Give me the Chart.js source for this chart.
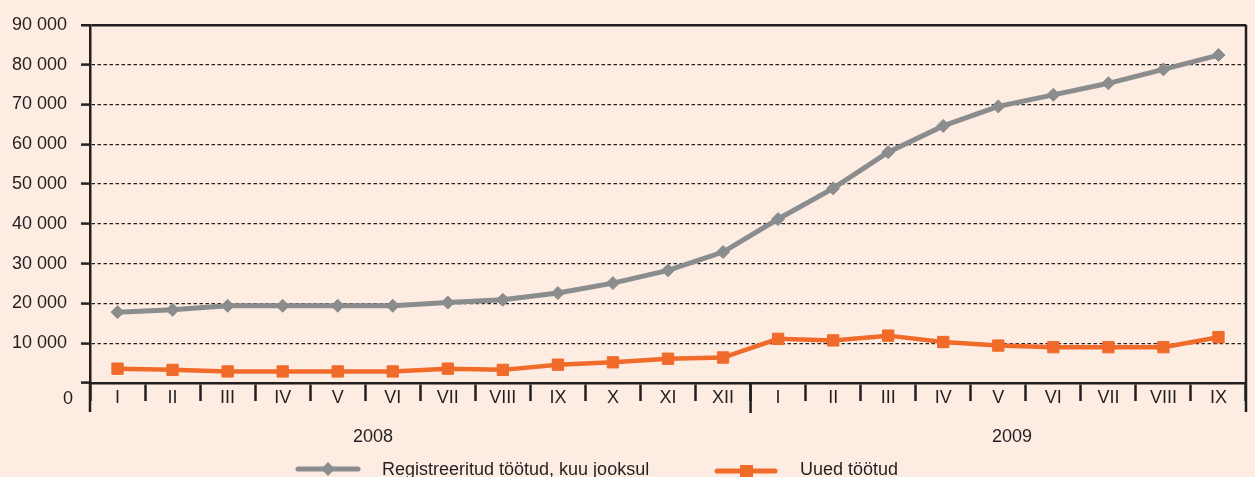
<!DOCTYPE html>
<html>
<head>
<meta charset="utf-8">
<script src="https://cdn.jsdelivr.net/npm/chart.js@4"></script>
<style>
  html, body { margin: 0; padding: 0; background: #FDECE1; }
  #wrap { width: 1255px; height: 477px; }
</style>
</head>
<body>
<div id="wrap"><canvas id="myChart" width="1255" height="477"></canvas></div>
<script>
// months of 2008 (I-XII) and 2009 (I-IX)
const months = ['I', 'II', 'III', 'IV', 'V', 'VI', 'VII', 'VIII', 'IX', 'X', 'XI', 'XII',
                'I', 'II', 'III', 'IV', 'V', 'VI', 'VII', 'VIII', 'IX'];
const years = ['2008', '2009'];
const registered = [17800, 18400, 19400, 19400, 19400, 19400, 20200, 20900, 22600, 25100, 28300, 32900,
                    41200, 48900, 58000, 64600, 69500, 72400, 75300, 78800, 82400];
const newUnemployed = [3600, 3300, 2900, 2900, 2900, 2900, 3600, 3300, 4600, 5200, 6100, 6400,
                       11100, 10700, 11900, 10300, 9400, 9000, 9000, 9000, 11500];
const seriesNames = ['Registreeritud töötud, kuu jooksul', 'Uued töötud'];

const ink = '#231F20';
const grey = '#8A8C8E';
const orange = '#F06A2A';
const fontFamily = '"Liberation Sans", Arial, sans-serif';

document.addEventListener("DOMContentLoaded", function() {
  const ctx = document.getElementById('myChart').getContext('2d');

  // frame pieces, year labels, the lowered "0" and the legend
  const extras = {
    id: 'extras',
    afterDraw(chart) {
      const c = chart.ctx;
      const area = chart.chartArea;
      const x = chart.scales.x;
      const y = chart.scales.y;
      const yearSplit = (x.getPixelForValue(11) + x.getPixelForValue(12)) / 2;
      c.save();
      c.strokeStyle = ink;
      c.lineWidth = 2.5;
      c.beginPath();
      c.moveTo(area.right, area.top);
      c.lineTo(area.right, area.bottom + 29);
      c.moveTo(area.left, area.bottom);
      c.lineTo(area.left, area.bottom + 29);
      c.moveTo(yearSplit, area.bottom);
      c.lineTo(yearSplit, area.bottom + 30);
      c.stroke();

      c.fillStyle = ink;
      c.font = '18px ' + fontFamily;
      c.textAlign = 'right';
      c.textBaseline = 'middle';
      c.fillText('0', 73, y.getPixelForValue(0) + 16);

      c.textAlign = 'center';
      c.fillText(years[0], x.getPixelForValue(4.64), 437);
      c.fillText(years[1], x.getPixelForValue(16.25), 437);

      // legend
      c.lineCap = 'round';
      c.lineWidth = 5;
      c.strokeStyle = grey;
      c.beginPath(); c.moveTo(298, 469); c.lineTo(358, 469); c.stroke();
      c.fillStyle = grey;
      c.beginPath();
      c.moveTo(328 - 7, 469); c.lineTo(328, 462); c.lineTo(328 + 7, 469); c.lineTo(328, 476);
      c.closePath(); c.fill();
      c.strokeStyle = orange;
      c.beginPath(); c.moveTo(717, 471); c.lineTo(775, 471); c.stroke();
      c.fillStyle = orange;
      c.fillRect(740, 465, 13, 13);

      c.fillStyle = ink;
      c.textAlign = 'left';
      c.textBaseline = 'alphabetic';
      c.fillText(chart.data.datasets[0].label, 382, 475);
      c.fillText(chart.data.datasets[1].label, 800, 475);
      c.restore();
    }
  };

  Chart.defaults.font.family = fontFamily;
  Chart.defaults.font.size = 18;
  Chart.defaults.color = ink;

  const myChart = new Chart(ctx, {
    type: 'line',
    data: {
      labels: months,
      datasets: [{
        label: seriesNames[0],
        data: registered,
        borderColor: grey,
        backgroundColor: grey,
        borderWidth: 5,
        pointStyle: 'rectRot',
        pointRadius: 6.5,
        pointBorderWidth: 1,
        tension: 0
      }, {
        label: seriesNames[1],
        data: newUnemployed,
        borderColor: orange,
        backgroundColor: orange,
        borderWidth: 4.5,
        pointStyle: 'rect',
        pointRadius: 8,
        pointBorderWidth: 1,
        tension: 0
      }]
    },
    options: {
      responsive: false,
      animation: false,
      layout: { padding: { top: 23, right: 2, left: 0, bottom: 0 } },
      plugins: {
        legend: { display: false },
        tooltip: { enabled: false }
      },
      scales: {
        x: {
          offset: true,
          grid: {
            offset: true,
            drawOnChartArea: false,
            drawTicks: true,
            tickLength: 18,
            tickColor: ink,
            tickWidth: 2.5
          },
          border: { color: ink, width: 2.5 },
          ticks: { padding: -14, maxRotation: 0, autoSkip: false, color: ink },
          afterFit: function(scale) { scale.height = 94; }
        },
        y: {
          min: 0,
          max: 90000,
          grid: {
            color: function(c) { return c.tick && c.tick.value === 0 ? 'rgba(0,0,0,0)' : ink; },
            lineWidth: function(c) { return c.tick && c.tick.value === 90000 ? 2.5 : 1.2; },
            tickLength: 9,
            tickColor: ink,
            tickWidth: 2.5
          },
          border: {
            color: ink,
            width: 2.5,
            dash: function(c) { return c.tick && c.tick.value === 90000 ? [] : [3.5, 2.5]; }
          },
          ticks: {
            stepSize: 10000,
            padding: 14,
            color: ink,
            callback: function(v) { return v === 0 ? '' : String(v / 1000) + ' 000'; }
          },
          afterFit: function(scale) { scale.width = 90; }
        }
      }
    },
    plugins: [extras]
  });
});
</script>
</body>
</html>
